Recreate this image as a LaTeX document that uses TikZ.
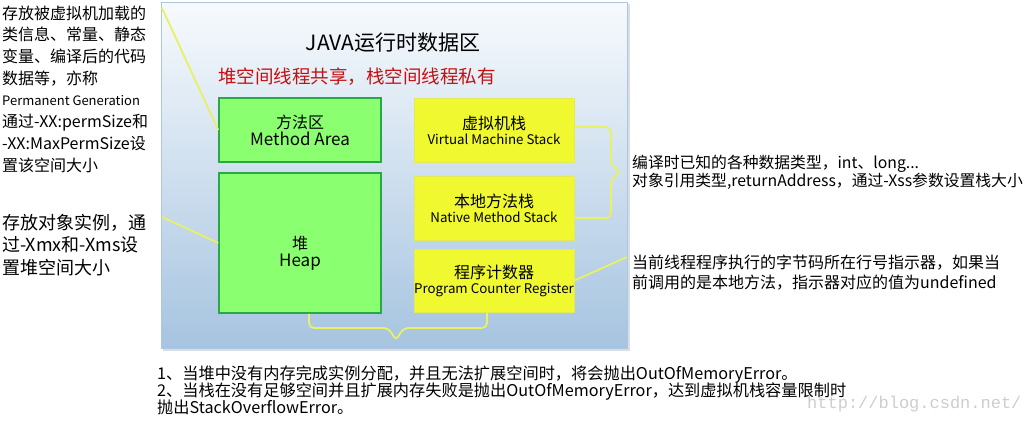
\documentclass[tikz,border=0pt]{standalone}
\usepackage{fontspec}
\setmainfont{Noto Sans CJK SC}
\newfontfamily\wmfont{Liberation Mono}
\usetikzlibrary{calc}
\newcommand\mytightlines{\lineskiplimit=-30pt\relax}
\definecolor{boxgreen}{RGB}{138,255,112}
\definecolor{boxgreenline}{RGB}{40,168,72}
\definecolor{boxyellow}{RGB}{240,248,48}
\definecolor{boxyellowline}{RGB}{226,234,90}
\definecolor{connector}{RGB}{232,240,100}
\definecolor{paneltop}{RGB}{247,250,253}
\definecolor{panelbot}{RGB}{166,196,224}
\definecolor{panelline}{RGB}{176,198,222}
\definecolor{panelshadow}{RGB}{215,222,230}
\definecolor{titlered}{RGB}{196,16,16}
\definecolor{wmgray}{RGB}{205,205,205}
\begin{document}
\begin{tikzpicture}[x=1pt,y=-1pt,
  greenbox/.style={draw=boxgreenline, fill=boxgreen, line width=1.5pt, inner sep=0pt, align=center},
  ybox/.style={draw=boxyellowline, fill=boxyellow, line width=1pt, inner sep=0pt, align=center},
  link/.style={draw=connector, line width=1.8pt},
  brace/.style={draw=connector, line width=1.8pt, rounded corners=5pt},
  note/.style={inner sep=0pt, align=left, anchor=base west}
]
\useasboundingbox (0,0) rectangle (1031,421);
% panel
\fill[panelshadow] (163,4) rectangle (630,351);
\shade[top color=paneltop, bottom color=panelbot] (161,2) rectangle (627,348);
\draw[panelline, line width=1pt] (161,2) rectangle (627,348);

% titles
\node[font=\fontsize{21}{24}\selectfont] (title) at (393,43) {JAVA运行时数据区};
\node[font=\fontsize{18.5}{22}\selectfont, text=titlered, anchor=west, inner sep=0pt] (shared) at (218,77) {堆空间线程共享，栈空间线程私有};

% boxes
\node[greenbox, minimum width=162, minimum height=64] (method) at (300,130)
  {\fontsize{16}{18}\selectfont\mytightlines 方法区\\[1pt]\fontsize{17}{18}\selectfont Method Area};
\node[greenbox, minimum width=162, minimum height=140] (heap) at (300,243) {};
\node[inner sep=0pt, align=center] (heaptext) at (300,253)
  {\fontsize{16}{18}\selectfont\mytightlines 堆\\[2pt]\fontsize{17}{18}\selectfont Heap};
\node[ybox, minimum width=160, minimum height=64] (vm) at (494,130)
  {\fontsize{16}{18}\selectfont\mytightlines 虚拟机栈\\[3pt]\fontsize{13.3}{15}\selectfont Virtual Machine Stack};
\node[ybox, minimum width=160, minimum height=64] (native) at (494,208)
  {\fontsize{16}{18}\selectfont\mytightlines 本地方法栈\\[3pt]\fontsize{13.3}{15}\selectfont Native Method Stack};
\node[ybox, minimum width=160, minimum height=63] (pc) at (494,280.5)
  {\fontsize{16}{18}\selectfont\mytightlines 程序计数器\\[3pt]\fontsize{13.3}{15}\selectfont Program Counter Register};

% connectors
\coordinate (c1) at (162,8);
\coordinate (c2) at (162,217);
\coordinate (c3) at (627,257);
\draw[link] (c1) -- (method.west);
\draw[link] (c2) -- (heap.west);
\draw[link] (pc.east) -- (c3);
\draw[brace] ([yshift=3pt]vm.east) -- (611,127) -- (611,165) -- (621,172) -- (611,179) -- (611,218) -- ([yshift=-10pt]native.east);
\draw[brace] ([xshift=9pt]heap.south) -- (309,328) -- (389,328) -- (396,341) -- (403,328) -- (487,328) -- ([xshift=-7pt]pc.south);

% notes (anchored at the baseline of the last line)
\node[note, font=\fontsize{16}{21.7}\selectfont\mytightlines] (n1) at (2,171) {存放被虚拟机加载的\\类信息、常量、静态\\变量、编译后的代码\\数据等，亦称\\{\fontsize{13}{21.7}\selectfont Permanent Generation}\\通过-XX:permSize和\\-XX:MaxPermSize设\\置该空间大小};
\node[note, font=\fontsize{18}{22.5}\selectfont\mytightlines] (n2) at (2,274) {存放对象实例，通\\过-Xmx和-Xms设\\置堆空间大小};
\node[note, font=\fontsize{15.8}{18}\selectfont\mytightlines] (n3) at (632,186) {编译时已知的各种数据类型，int、long...\\对象引用类型,returnAddress，通过-Xss参数设置栈大小};
\node[note, font=\fontsize{16}{20}\selectfont\mytightlines] (n4) at (632,288) {当前线程程序执行的字节码所在行号指示器，如果当\\前调用的是本地方法，指示器对应的值为undefined};
\node[note, font=\fontsize{16.2}{17}\selectfont\mytightlines] (n5) at (157,413) {1、当堆中没有内存完成实例分配，并且无法扩展空间时，将会抛出OutOfMemoryError。\\2、当栈在没有足够空间并且扩展内存失败是抛出OutOfMemoryError，达到虚拟机栈容量限制时\\抛出StackOverflowError。};
\node[note, font=\wmfont\fontsize{17}{20}\selectfont, text=wmgray] (wm) at (807,408) {http://blog.csdn.net/};
\end{tikzpicture}
\end{document}
